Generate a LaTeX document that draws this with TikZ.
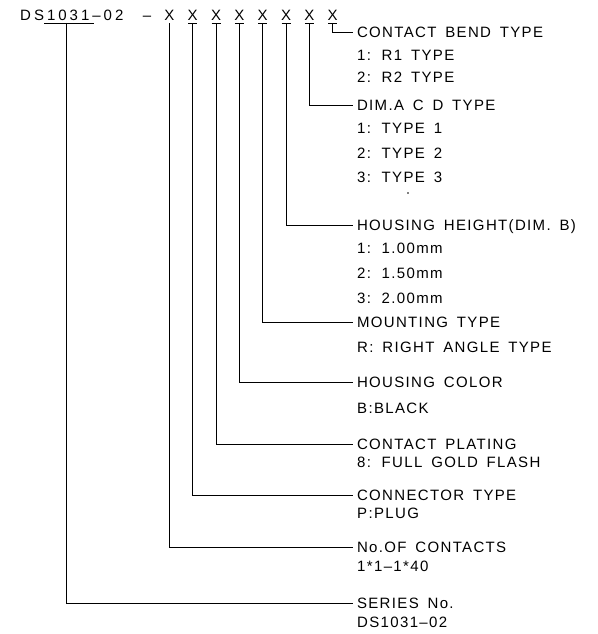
\documentclass[tikz,border=0pt]{standalone}
\usepackage{fontspec}
\setmainfont{Liberation Sans}[LetterSpace=9,WordSpace=1.6]
\newfontfamily\hdfont{Liberation Sans}[LetterSpace=20]
\begin{document}
\begin{tikzpicture}[x=1pt,y=-1pt,
  every node/.style={font=\fontsize{15}{17}\selectfont},
  xch/.style={inner sep=0pt,outer sep=3pt,text height=10.7pt,text depth=0pt},
  lbl/.style={anchor=west,inner sep=0pt,outer sep=4pt,text height=10.7pt,text depth=0pt},
  sub/.style={anchor=west,inner sep=0pt,text height=10.7pt,text depth=0pt},
  ln/.style={line width=0.9pt}]
\useasboundingbox (0,0) rectangle (597,634);
% header
\node[sub,font=\hdfont\fontsize{15}{17}\selectfont] (hd) at (20,15) {DS1031–02};
\node[xch] (dash) at (147,15) {–};
\node[xch] (x1) at (169.3,15) {X};
\node[xch] (x2) at (192.7,15) {X};
\node[xch] (x3) at (216,15) {X};
\node[xch] (x4) at (239.3,15) {X};
\node[xch] (x5) at (262.7,15) {X};
\node[xch] (x6) at (286,15) {X};
\node[xch] (x7) at (309.3,15) {X};
\node[xch] (x8) at (332.7,15) {X};
\coordinate (u0) at (44,23);
\coordinate (u1) at (94,23);
\coordinate (s0) at (66,23);
% underlines
\draw[ln] (u0) -- (u1);
\foreach \n in {x2,x3,x4,x5,x6,x7,x8}{
  \draw[ln] ([xshift=-4.5pt]\n.south) -- ([xshift=4.5pt]\n.south);
}
% labels
\node[lbl] (l8) at (353,32) {CONTACT BEND TYPE};
\node[sub] at (357,55) {1: R1 TYPE};
\node[sub] at (357,77) {2: R2 TYPE};
\node[lbl] (l7) at (353,105) {DIM.A C D TYPE};
\node[sub] at (357,128) {1: TYPE 1};
\node[sub] at (357,153) {2: TYPE 2};
\node[sub] at (357,177) {3: TYPE 3};
\node[circle,fill,inner sep=0pt,minimum size=1.8pt] (dot) at (408,193) {};
\node[lbl] (l6) at (353,225) {HOUSING HEIGHT(DIM. B)};
\node[sub] at (357,248) {1: 1.00mm};
\node[sub] at (357,273) {2: 1.50mm};
\node[sub] at (357,298) {3: 2.00mm};
\node[lbl] (l5) at (353,322) {MOUNTING TYPE};
\node[sub] at (357,347) {R: RIGHT ANGLE TYPE};
\node[lbl] (l4) at (353,382) {HOUSING COLOR};
\node[sub] at (357,408) {B:BLACK};
\node[lbl] (l3) at (353,444) {CONTACT PLATING};
\node[sub] at (357,462) {8: FULL GOLD FLASH};
\node[lbl] (l2) at (353,495) {CONNECTOR TYPE};
\node[sub] at (357,513) {P:PLUG};
\node[lbl] (l1) at (353,547) {No.OF CONTACTS};
\node[sub] at (357,566) {1*1–1*40};
\node[lbl] (l0) at (353,603) {SERIES No.};
\node[sub] at (357,622) {DS1031–02};
% connectors
\draw[ln] (x8.south) |- (l8.west);
\draw[ln] (x7.south) |- (l7.west);
\draw[ln] (x6.south) |- (l6.west);
\draw[ln] (x5.south) |- (l5.west);
\draw[ln] (x4.south) |- (l4.west);
\draw[ln] (x3.south) |- (l3.west);
\draw[ln] (x2.south) |- (l2.west);
\draw[ln] (x1.south) |- (l1.west);
\draw[ln] (s0) |- (l0.west);
\end{tikzpicture}
\end{document}
